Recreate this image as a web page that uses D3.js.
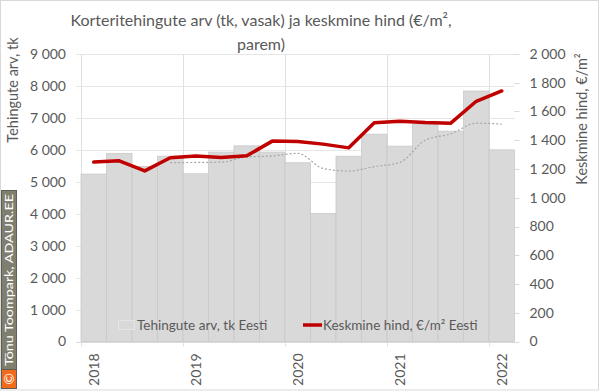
<!DOCTYPE html>
<html>
<head>
<meta charset="utf-8">
<script src="https://cdn.jsdelivr.net/npm/d3@7"></script>
<style>
  html, body { margin: 0; padding: 0; background: #fff; }
  svg { display: block; font-family: Lato, "Open Sans", sans-serif; }
</style>
</head>
<body>
<svg id="chart" width="600" height="392"></svg>
<script>
// ---- data ----
const quarters = ["2018 Q1","2018 Q2","2018 Q3","2018 Q4","2019 Q1","2019 Q2","2019 Q3","2019 Q4",
                  "2020 Q1","2020 Q2","2020 Q3","2020 Q4","2021 Q1","2021 Q2","2021 Q3","2021 Q4","2022 Q1"];
const transactions = [5240, 5890, 5480, 5800, 5250, 5930, 6125, 5930, 5595, 4010, 5800, 6490, 6115, 6800, 6585, 7840, 6000];
const avgPrice = [1248, 1257, 1187, 1278, 1290, 1280, 1292, 1394, 1392, 1373, 1347, 1521, 1533, 1523, 1519, 1671, 1743];
// 4-quarter moving average trend of transactions (dotted grey line)
const trend = [null, null, null, 5600, 5605, 5615, 5775, 5810, 5890, 5415, 5335, 5475, 5605, 6300, 6500, 6835, 6805];
const yearLabels = ["2018", "2019", "2020", "2021", "2022"];
const leftTicks = [0, 1000, 2000, 3000, 4000, 5000, 6000, 7000, 8000, 9000];
const rightTicks = [0, 200, 400, 600, 800, 1000, 1200, 1400, 1600, 1800, 2000];
const titleLines = ["Korteritehingute arv (tk, vasak) ja keskmine hind (€/m²,", "parem)"];
const leftTitle = "Tehingute arv, tk";
const rightTitle = "Keskmine hind, €/m²";
const legendBars = "Tehingute arv, tk Eesti";
const legendLine = "Keskmine hind, €/m² Eesti";
const watermark = "Tõnu Toompark, ADAUR.EE";

// ---- layout ----
const svg = d3.select("#chart");
const L = 81, R = 514.5, T = 54, B = 341.5;
const textColor = "#595959";
const gridColor = "#d9d9d9";
const fmt = v => d3.format(",")(v).replace(/,/g, " ");

const x = d3.scaleBand().domain(quarters).range([L, R]).padding(0);
const yL = d3.scaleLinear().domain([0, 9000]).range([B, T]);
const yR = d3.scaleLinear().domain([0, 2000]).range([B, T]);

// chart border
svg.append("rect").attr("x", 0.5).attr("y", 0.5).attr("width", 598).attr("height", 389.5)
  .attr("fill", "none").attr("stroke", gridColor);

// horizontal gridlines (left axis), with outer ticks on both sides
svg.append("g").selectAll("line").data(leftTicks.filter(d => d > 0)).join("line")
  .attr("x1", L - 5).attr("x2", R).attr("y1", d => Math.round(yL(d)) + 0.5).attr("y2", d => Math.round(yL(d)) + 0.5)
  .attr("stroke", "#e6e6e6").attr("stroke-width", 1);
svg.append("g").selectAll("line").data(rightTicks).join("line")
  .attr("x1", R).attr("x2", R + 5).attr("y1", d => Math.round(yR(d)) + 0.5).attr("y2", d => Math.round(yR(d)) + 0.5)
  .attr("stroke", gridColor);
svg.append("line").attr("x1", L - 5).attr("x2", L).attr("y1", Math.round(B) + 0.5).attr("y2", Math.round(B) + 0.5)
  .attr("stroke", gridColor);

// vertical year gridlines
const yearStarts = quarters.filter(q => q.endsWith("Q1"));
svg.append("g").selectAll("line").data(yearStarts).join("line")
  .attr("x1", d => Math.round(x(d)) + 0.5).attr("x2", d => Math.round(x(d)) + 0.5)
  .attr("y1", T).attr("y2", B + 5)
  .attr("stroke", "#e0e0e0");

// bars
svg.append("g").selectAll("rect").data(transactions).join("rect")
  .attr("x", (d, i) => x(quarters[i]))
  .attr("y", d => yL(d))
  .attr("width", x.bandwidth())
  .attr("height", d => B - yL(d))
  .attr("fill", "#d9d9d9")
  .attr("stroke", "#c9c9c9").attr("stroke-width", 0.8);

// x axis line
svg.append("line").attr("x1", L).attr("x2", R).attr("y1", Math.round(B) + 0.5).attr("y2", Math.round(B) + 0.5)
  .attr("stroke", gridColor);

// trend line (left axis)
const trendLine = d3.line()
  .defined(d => d != null)
  .x((d, i) => x(quarters[i]) + x.bandwidth() / 2)
  .y(d => yL(d))
  .curve(d3.curveMonotoneX);
svg.append("path").datum(trend).attr("d", trendLine)
  .attr("fill", "none").attr("stroke", "#a6a6a6").attr("stroke-width", 1.2).attr("stroke-dasharray", "2,2");

// price line (right axis)
const priceLine = d3.line()
  .x((d, i) => x(quarters[i]) + x.bandwidth() / 2)
  .y(d => yR(d));
svg.append("path").datum(avgPrice).attr("d", priceLine)
  .attr("fill", "none").attr("stroke", "#c00000").attr("stroke-width", 3.5)
  .attr("stroke-linejoin", "round").attr("stroke-linecap", "round");

// left axis labels
const leftAxis = d3.axisLeft(yL).tickValues(leftTicks).tickFormat(fmt).tickSize(0).tickPadding(15);
const gl = svg.append("g").attr("transform", `translate(${L},0)`).call(leftAxis);
gl.select(".domain").remove();
gl.selectAll("text").attr("fill", textColor).style("font-size", "14px").style("font-family", "Lato, sans-serif");

// right axis labels
const rightAxis = d3.axisRight(yR).tickValues(rightTicks).tickFormat(fmt).tickSize(0).tickPadding(15);
const gr = svg.append("g").attr("transform", `translate(${R},0)`).call(rightAxis);
gr.select(".domain").remove();
gr.selectAll("text").attr("fill", textColor).style("font-size", "14px").style("font-family", "Lato, sans-serif");

// x labels (year at Q1, rotated)
svg.append("g").selectAll("text").data(yearLabels).join("text")
  .attr("transform", d => `translate(${x(d + " Q1") + x.bandwidth() / 2 + 5},${B + 12}) rotate(-90)`)
  .attr("text-anchor", "end")
  .attr("fill", textColor).style("font-size", "14px")
  .text(d => d);

// title
svg.append("g").selectAll("text").data(titleLines).join("text")
  .attr("x", 261).attr("y", (d, i) => 26 + i * 24)
  .attr("text-anchor", "middle").attr("fill", textColor).style("font-size", "16px")
  .text(d => d);

// axis titles
svg.append("text").attr("transform", "translate(18,90) rotate(-90)")
  .attr("text-anchor", "middle").attr("fill", textColor).style("font-size", "14.5px").text(leftTitle);
svg.append("text").attr("transform", "translate(587,119) rotate(-90)")
  .attr("text-anchor", "middle").attr("fill", textColor).style("font-size", "14.5px").text(rightTitle);

// legend
const lg = svg.append("g");
lg.append("rect").attr("x", 118.5).attr("y", 320.5).attr("width", 16).attr("height", 9)
  .attr("fill", "#d9d9d9").attr("stroke", "#e4e4e4");
lg.append("text").attr("x", 137).attr("y", 330).attr("fill", textColor).style("font-size", "13.5px").text(legendBars);
lg.append("line").attr("x1", 303).attr("x2", 322).attr("y1", 325).attr("y2", 325)
  .attr("stroke", "#c00000").attr("stroke-width", 3.5);
lg.append("text").attr("x", 323).attr("y", 330).attr("fill", textColor).style("font-size", "13.5px").text(legendLine);

// watermark
const wm = svg.append("g");
wm.append("rect").attr("x", 1.5).attr("y", 190.5).attr("width", 15).attr("height", 179)
  .attr("fill", "#7f7f6f").attr("stroke", "#5e5e52");
wm.append("rect").attr("x", 1.5).attr("y", 369.5).attr("width", 15).attr("height", 19)
  .attr("fill", "#f26a1b").attr("stroke", "#5e5e52");
wm.append("text").attr("transform", "translate(13,280) rotate(-90)")
  .attr("text-anchor", "middle").attr("fill", "#ffffff").style("font-size", "11.5px")
  .attr("textLength", 172).attr("lengthAdjust", "spacingAndGlyphs").text(watermark);
wm.append("text").attr("transform", "translate(14,379) rotate(-90)")
  .attr("text-anchor", "middle").attr("fill", "#ffffff").style("font-size", "14px").text("©");
</script>
</body>
</html>
